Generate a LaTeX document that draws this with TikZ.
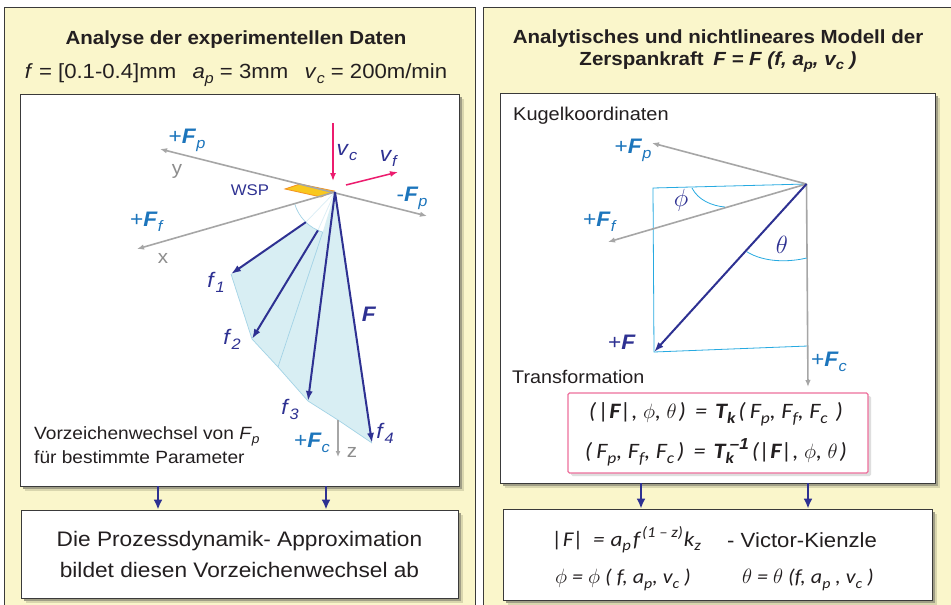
\documentclass[tikz,border=0pt]{standalone}
\usepackage{fontspec}
\setmainfont{Liberation Sans}[FakeStretch=1.08]
\newfontfamily\eqfont{Carlito}[FakeStretch=1.1]
\usepackage{graphicx}
\usetikzlibrary{arrows.meta}

\definecolor{panelbg}{HTML}{FAF6CB}
\definecolor{panelrule}{HTML}{3A3A3A}
\definecolor{navy}{HTML}{2E3192}
\definecolor{fblue}{HTML}{1C75BC}
\definecolor{axisgray}{HTML}{A6A6A6}
\definecolor{vmag}{HTML}{EC1C6E}
\definecolor{fanfill}{HTML}{D8EEF3}
\definecolor{fanedge}{HTML}{A3D3E6}
\definecolor{cyanrule}{HTML}{27AAE1}
\definecolor{pinkrule}{HTML}{EE6F9C}
\definecolor{wspfill}{HTML}{F9C81E}
\definecolor{wsprule}{HTML}{F3921F}
\definecolor{shadeA}{HTML}{A09E86}
\definecolor{shadeB}{HTML}{D9D6AE}
\definecolor{textdark}{HTML}{231F20}

% small lowered / raised indices for text-mode formulas
\newcommand\subx[1]{\raisebox{-0.45ex}{\scalebox{0.72}{#1}}}
\newcommand\supx[1]{\raisebox{0.85ex}{\scalebox{0.72}{#1}}}
% index pair stacked above each other: #1 raised, #2 lowered
\newcommand\subsupx[2]{\raisebox{-0.45ex}{\scalebox{0.72}{\vbox{\baselineskip=19pt\lineskiplimit=-20pt\hbox{#1}\hbox{#2}}}}}
\newcommand\fsz[1]{\fontsize{#1}{#1}\selectfont}

\tikzset{
  panelbox/.style={draw=panelrule, fill=panelbg, line width=1pt},
  wbox/.style={draw=panelrule, fill=white, line width=0.8pt, inner sep=0pt,
    preaction={fill=shadeB, transform canvas={shift={(5pt,-5pt)}}},
    preaction={fill=shadeA, transform canvas={shift={(2.5pt,-2.5pt)}}}},
  eqbox/.style={draw=pinkrule, fill=white, line width=1.2pt, rounded corners=1.5pt,
    inner sep=0pt, preaction={fill=black!13, transform canvas={shift={(3pt,-3pt)}}}},
  lbl/.style={inner sep=0pt},
  axis/.style={draw=axisgray, line width=1.6pt},
  tipA/.tip={Latex[length=7pt,width=5.5pt]},
  tipF/.tip={Latex[length=10pt,width=7pt]},
  farrow/.style={draw=navy, line width=2pt, -tipF},
  varrow/.style={draw=vmag, line width=1.5pt, -{Latex[length=8pt,width=6pt]}},
  flow/.style={draw=navy, line width=2.2pt, -{Latex[length=10pt,width=9pt]}},
  fan/.style={draw=fanedge, line width=0.7pt},
  angarc/.style={draw=cyanrule, line width=0.8pt},
  blue/.style={lbl, text=fblue, font=\fsz{21}},
  navylbl/.style={lbl, text=navy, font=\fsz{21}},
  graylbl/.style={lbl, text=axisgray!85!black, font=\fsz{19}},
  eqtext/.style={lbl, text=textdark, font=\eqfont\itshape\fsz{22}},
}

\begin{document}
\begin{tikzpicture}[x=1pt,y=-1pt]
\useasboundingbox (0,0) rectangle (951,605);
\fill[white] (0,0) rectangle (951,605);

% ---------- panels ----------
\draw[panelbox] (4,7) rectangle (475,625);
\draw[panelbox] (483,7) rectangle (965,625);

% ---------- left panel ----------
\node[lbl, font=\fsz{19}\bfseries, text=textdark] (ltitle) at (236,40) {Analyse der experimentellen Daten};
\node[lbl, font=\fsz{20.5}, text=textdark] (lparam) at (236,75)
  {\textit{f} = [0.1-0.4]mm\enspace\ \textit{a}\subx{\textit{p}} = 3mm\enspace\ \textit{v}\subx{\textit{c}} = 200m/min};

\node[wbox, minimum width=439, minimum height=392] (lpic) at (239.5,290) {};
\node[wbox, minimum width=437, minimum height=88, align=center, font=\fontsize{21}{31}\selectfont, text=textdark] (lres) at (239.5,554)
  {Die Prozessdynamik- Approximation\\bildet diesen Vorzeichenwechsel ab};

% force fan
\coordinate (O) at (335,192);
\coordinate (Ya) at (160,149);
\coordinate (Yb) at (427,216);
\coordinate (Xa) at (137,249);
\coordinate (A1) at (305.8,222.2);
\coordinate (A2) at (317.9,230.4);
\coordinate (A3) at (322.7,232.2);
\coordinate (P1) at (231,274);
\coordinate (P2) at (252,339);
\coordinate (K) at (278,367);
\coordinate (P3) at (308,401);
\coordinate (Zt) at (338,420);
\coordinate (Zb) at (338,457);
\coordinate (P4) at (372,443);

\fill[fanfill] (A1) -- (P1) -- (P2) -- (K) -- (P3) -- (Zt) -- (P4) -- (O) -- (A3)
  arc[start angle=107, end angle=134, radius=42] -- cycle;
\draw[fan] (P1) -- (P2) -- (K) -- (P3) -- (Zt) -- (P4);
\draw[fan] (A3) -- (K);
\draw[fan] (O) ++(164:42) arc[start angle=164, end angle=107, radius=42];
\draw[fan, draw=fanedge!40] (O) -- (A1) (O) -- (A2);

% cutting insert
\filldraw[fill=wspfill, draw=wsprule, line width=0.8pt] (285,189) -- (300,184) -- (334,191) -- (321,197) -- cycle;

% axes
\draw[axis, tipA-tipA] (Ya) -- (Yb);
\draw[axis, -tipA] (O) -- (Xa);
\draw[axis, line width=1.3pt, -{Latex[length=6pt,width=5pt]}] (Zt) -- (Zb);

% feed and cutting speed
\coordinate (vc1) at (333,123);
\coordinate (vc2) at (333,181);
\coordinate (vf1) at (346,185);
\coordinate (vf2) at (398,172);
\draw[varrow] (vc1) -- (vc2);
\draw[varrow] (vf1) -- (vf2);

% resulting forces
\draw[farrow] (A1) -- (P1);
\draw[farrow] (A2) -- (P2);
\draw[farrow] (O) -- (P3);
\draw[farrow] (O) -- (P4);

% labels
\node[blue] (lFp) at (187,140) {+\textbf{\textit{F}}\subx{\textit{p}}};
\node[blue] (lmFp) at (412,198) {-\textbf{\textit{F}}\subx{\textit{p}}};
\node[blue] (lFf) at (147,222) {+\textbf{\textit{F}}\subx{\textit{f}}};
\node[blue] (lFc) at (312,443) {+\textbf{\textit{F}}\subx{\textit{c}}};
\node[graylbl] (ly) at (177,171) {y};
\node[graylbl] (lx) at (163,258) {x};
\node[graylbl] (lz) at (352,452) {z};
\node[navylbl] (lvc) at (347,153) {\textit{v}\subx{\textit{c}}};
\node[navylbl] (lvf) at (389,158) {\textit{v}\subx{\textit{f}}};
\node[navylbl, font=\fsz{15.5}] (lwsp) at (250,190) {WSP};
\node[navylbl] (lf1) at (216,282) {\textit{f}\subx{\textit{1}}};
\node[navylbl] (lf2) at (232,339) {\textit{f}\subx{\textit{2}}};
\node[navylbl] (lf3) at (290,409) {\textit{f}\subx{\textit{3}}};
\node[navylbl] (lf4) at (385,433) {\textit{f}\subx{\textit{4}}};
\node[navylbl] (lF) at (369,314) {\textbf{\textit{F}}};

\node[lbl, anchor=base west, font=\fsz{17.7}, text=textdark] (lnote1) at (34,439) {Vorzeichenwechsel von \textit{F}\subx{\textit{p}}};
\node[lbl, anchor=base west, font=\fsz{17.7}, text=textdark] (lnote2) at (34,463) {für bestimmte Parameter};

% ---------- right panel ----------
\node[lbl, font=\fontsize{19}{22}\selectfont\bfseries, text=textdark, align=center] (rtitle) at (718,51)
  {Analytisches und nichtlineares Modell der\\Zerspankraft\enspace\textit{F = F (f, a\subx{p}, v\subx{c} )}};

\node[wbox, minimum width=435, minimum height=390] (rpic) at (717.5,288) {};
\node[wbox, minimum width=429, minimum height=91] (rres) at (717.5,554.5) {};

\node[lbl, anchor=base west, font=\fsz{18.5}, text=textdark] (rkug) at (513,120) {Kugelkoordinaten};
\node[lbl, anchor=base west, font=\fsz{18.3}, text=textdark] (rtrans) at (512,383) {Transformation};

% spherical coordinates
\coordinate (Q) at (806.5,184);
\coordinate (QP) at (652,143);
\coordinate (QF) at (608,242);
\coordinate (QC) at (808,387);
\coordinate (TL) at (653,188);
\coordinate (BL) at (654,352);
\coordinate (BR) at (808,346);

\draw[cyanrule, line width=0.8pt] (Q) -- (TL) -- (BL) -- (BR);
\draw[axis, -tipA] (Q) -- (QP);
\draw[axis, -tipA] (Q) -- (QF);
\draw[axis, -tipA] (Q) -- (QC);
\draw[farrow] (Q) -- (BL);
\draw[angarc] (692,188) .. controls (698,200) and (712,206) .. (725,207);
\draw[angarc] (746.7,251.7) .. controls (765,263) and (790,262) .. (806.7,258);

\node[blue] (rFp) at (633,150) {+\textbf{\textit{F}}\subx{\textit{p}}};
\node[blue] (rFf) at (600,222) {+\textbf{\textit{F}}\subx{\textit{f}}};
\node[blue] (rFc) at (829,362) {+\textbf{\textit{F}}\subx{\textit{c}}};
\node[navylbl] (rF) at (622,342) {+\textbf{\textit{F}}};
\node[navylbl, font=\fsz{29}] (rphi) at (681,200) {$\phi$};
\node[navylbl, font=\fsz{29}] (rtheta) at (782,245) {$\theta$};

% transformation box
\node[eqbox, minimum width=300, minimum height=80] (tbox) at (718,433) {};
\node[eqtext] (teq1) at (716,414)
  {(\hspace{2pt}|\textbf{F}|, $\phi$, $\theta$\hspace{2pt})\hspace{9pt}=\hspace{8pt}\textbf{T}\subx{\textbf{k}}\hspace{3pt}(\hspace{4pt}F\subx{p}, F\subx{f}, F\subx{c}\hspace{8pt})};
\node[eqtext] (teq2) at (716,452)
  {(\hspace{4pt}F\subx{p}, F\subx{f}, F\subx{c}\hspace{3pt})\hspace{9pt}=\hspace{8pt}\textbf{T}\subsupx{\kern6pt\normalfont\bfseries\itshape –1}{\textbf{k}}\hspace{3pt}(|\textbf{F}|, $\phi$, $\theta$\hspace{2pt})};

% model box
\node[eqtext, anchor=west, font=\eqfont\itshape\fsz{21}] (req1) at (552,540)
  {|F|\hspace{9pt}=\hspace{6pt}a\subx{p}\hspace{2pt}f\hspace{2pt}\supx{(1 – z)}\hspace{1pt}k\subx{z}};
\node[lbl, anchor=west, font=\fsz{20.5}, text=textdark] (rvk) at (727,540) {- Victor-Kienzle};
\node[eqtext, anchor=west, font=\eqfont\itshape\fsz{20}] (req2) at (555,580)
  {$\phi$ = $\phi$ ( f, a\subx{p}, v\subx{c} )};
\node[eqtext, anchor=west, font=\eqfont\itshape\fsz{20}] (req3) at (742,580)
  {$\theta$ = $\theta$ (f, a\subx{p} , v\subx{c} )};

% flow arrows between the stages
\coordinate (c1) at (158,0);
\coordinate (c2) at (326,0);
\coordinate (c3) at (641,0);
\coordinate (c4) at (808,0);
\draw[flow] (lpic.south -| c1) -- (lres.north -| c1);
\draw[flow] (lpic.south -| c2) -- (lres.north -| c2);
\draw[flow] (rpic.south -| c3) -- (rres.north -| c3);
\draw[flow] (rpic.south -| c4) -- (rres.north -| c4);
\end{tikzpicture}
\end{document}
